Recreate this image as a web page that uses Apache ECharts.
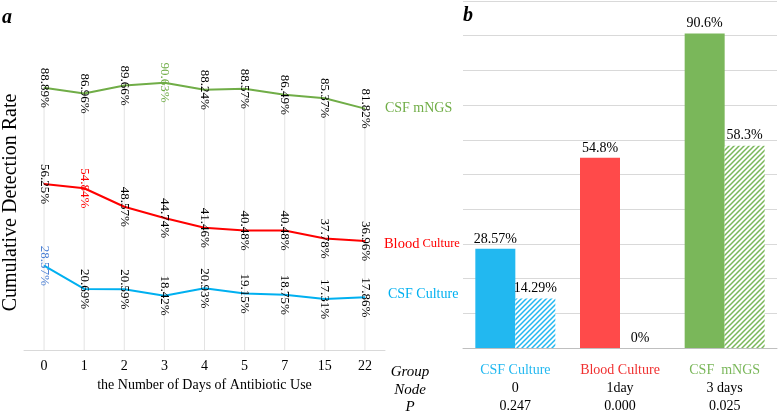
<!DOCTYPE html>
<html>
<head>
<meta charset="utf-8">
<script src="https://cdn.jsdelivr.net/npm/echarts@6/dist/echarts.min.js"></script>
<style>
  html, body { margin: 0; padding: 0; background: #fff; }
  #chart { width: 778px; height: 413px; }
</style>
</head>
<body>
<div id="chart"></div>
<script>
// panel a: cumulative detection rate by days of antibiotic use
const days = ['0', '1', '2', '3', '4', '5', '7', '15', '22'];
const mngsRate = [88.89, 86.96, 89.66, 90.63, 88.24, 88.57, 86.49, 85.37, 81.82];
const bloodRate = [56.25, 54.84, 48.57, 44.74, 41.46, 40.48, 40.48, 37.78, 36.96];
const csfCultureRate = [28.57, 20.69, 20.59, 18.42, 20.93, 19.15, 18.75, 17.31, 17.86];

// panel b: before / after node
const groups = ['CSF Culture', 'Blood Culture', 'CSF  mNGS'];
const nodes = ['0', '1day', '3 days'];
const pValues = ['0.247', '0.000', '0.025'];
const beforeRate = [28.57, 54.8, 90.6];
const afterRate = [14.29, 0, 58.3];

const FONT = '"Liberation Serif", "DejaVu Serif", serif';
const GREEN = '#70ad47', RED = '#ff0000', BLUE = '#00b0f0';
const barColors = ['#22b8f0', '#ff4a4a', '#7ab75a'];

// diagonal hatch for the "after" bars
function hatch(color) {
    const c = document.createElement('canvas');
    const s = 5;
    c.width = s; c.height = s;
    const ctx = c.getContext('2d');
    ctx.fillStyle = '#fff';
    ctx.fillRect(0, 0, s, s);
    ctx.strokeStyle = color;
    ctx.lineWidth = 1.5;
    ctx.beginPath();
    ctx.moveTo(-1, s + 1); ctx.lineTo(s + 1, -1);
    ctx.moveTo(-1, 1); ctx.lineTo(1, -1);
    ctx.moveTo(s - 1, s + 1); ctx.lineTo(s + 1, s - 1);
    ctx.stroke();
    return { image: c, repeat: 'repeat' };
}

// one point's label takes the series colour, the rest are black
function withLabelColor(values, idx, color) {
    return values.map((v, i) => i === idx ? { value: v, label: { color: color } } : v);
}

const lineLabel = {
    show: true,
    position: 'inside',
    rotate: -90,
    fontFamily: FONT,
    fontSize: 13,
    color: '#000',
    formatter: p => p.value + '%'
};

const chart = echarts.init(document.getElementById('chart'));

const option = {
    animation: false,
    textStyle: { fontFamily: FONT },
    grid: [
        { left: 20, top: 55, width: 365, height: 295 },
        { left: 463, top: 1, right: 1, height: 349 }
    ],
    xAxis: [
        {
            gridIndex: 0,
            type: 'category',
            data: days,
            axisLine: { lineStyle: { color: '#d9d9d9' } },
            axisTick: { show: false },
            axisLabel: { color: '#000', fontSize: 14, fontFamily: FONT, margin: 9 },
            splitLine: { show: false },
            name: 'the Number of Days of Antibiotic Use',
            nameLocation: 'middle',
            nameGap: 26,
            nameTextStyle: { color: '#000', fontSize: 14, fontFamily: FONT }
        },
        {
            gridIndex: 1,
            type: 'category',
            data: groups,
            axisLine: { lineStyle: { color: '#bfbfbf' } },
            axisTick: { show: false },
            axisLabel: {
                margin: 13,
                interval: 0,
                formatter: (v, i) => '{g' + i + '|' + v + '}\n{n|' + nodes[i] + '}\n{n|' + pValues[i] + '}',
                rich: {
                    g0: { color: barColors[0], fontSize: 14, fontFamily: FONT, lineHeight: 18 },
                    g1: { color: '#f03030', fontSize: 14, fontFamily: FONT, lineHeight: 18 },
                    g2: { color: barColors[2], fontSize: 14, fontFamily: FONT, lineHeight: 18 },
                    n: { color: '#000', fontSize: 14, fontFamily: FONT, lineHeight: 18 }
                }
            }
        }
    ],
    yAxis: [
        {
            gridIndex: 0,
            type: 'value',
            min: 0, max: 100,
            axisLabel: { show: false },
            axisLine: { show: false },
            axisTick: { show: false },
            splitLine: { show: false },
            name: 'Cumulative Detection Rate',
            nameLocation: 'middle',
            nameGap: 3,
            nameTextStyle: { color: '#000', fontSize: 20, fontFamily: FONT }
        },
        {
            gridIndex: 1,
            type: 'value',
            min: 0, max: 100, interval: 10,
            axisLabel: { show: false },
            axisLine: { show: false },
            axisTick: { show: false },
            splitLine: { lineStyle: { color: '#d9d9d9' } }
        }
    ],
    series: [
        {
            // drop lines under each day
            type: 'bar',
            xAxisIndex: 0, yAxisIndex: 0,
            data: mngsRate,
            barWidth: 1,
            silent: true,
            z: 1,
            itemStyle: { color: '#e3e3e3' }
        },
        {
            name: 'CSF mNGS',
            type: 'line',
            xAxisIndex: 0, yAxisIndex: 0,
            data: withLabelColor(mngsRate, 3, GREEN),
            symbol: 'circle', symbolSize: 1,
            itemStyle: { color: GREEN },
            lineStyle: { color: GREEN, width: 2 },
            label: lineLabel,
            endLabel: {
                show: true, distance: 20,
                color: GREEN, fontSize: 14, fontFamily: FONT,
                formatter: 'CSF mNGS'
            }
        },
        {
            name: 'Blood Culture',
            type: 'line',
            xAxisIndex: 0, yAxisIndex: 0,
            data: withLabelColor(bloodRate, 1, RED),
            symbol: 'circle', symbolSize: 1,
            itemStyle: { color: RED },
            lineStyle: { color: RED, width: 2 },
            label: lineLabel,
            endLabel: {
                show: true, distance: 19, offset: [0, 3],
                formatter: '{a|Blood} {b|Culture}',
                rich: {
                    a: { color: RED, fontSize: 14.5, fontFamily: FONT },
                    b: { color: RED, fontSize: 12.5, fontFamily: FONT }
                }
            }
        },
        {
            name: 'CSF Culture',
            type: 'line',
            xAxisIndex: 0, yAxisIndex: 0,
            data: withLabelColor(csfCultureRate, 0, '#4a7fd4'),
            symbol: 'circle', symbolSize: 1,
            itemStyle: { color: BLUE },
            lineStyle: { color: BLUE, width: 2 },
            label: lineLabel,
            endLabel: {
                show: true, distance: 23, offset: [0, -3],
                color: BLUE, fontSize: 14, fontFamily: FONT,
                formatter: 'CSF Culture'
            }
        },
        {
            type: 'bar',
            xAxisIndex: 1, yAxisIndex: 1,
            data: beforeRate.map((v, i) => ({ value: v, itemStyle: { color: barColors[i] } })),
            barWidth: 40,
            barGap: 0,
            label: {
                show: true, position: 'top', distance: 3,
                color: '#000', fontSize: 14, fontFamily: FONT,
                formatter: p => p.value + '%'
            }
        },
        {
            type: 'bar',
            xAxisIndex: 1, yAxisIndex: 1,
            data: afterRate.map((v, i) => ({ value: v, itemStyle: { color: hatch(barColors[i]) } })),
            barWidth: 40,
            barGap: 0,
            label: {
                show: true, position: 'top', distance: 3,
                color: '#000', fontSize: 14, fontFamily: FONT,
                formatter: p => p.value + '%'
            }
        }
    ],
    graphic: [
        { type: 'text', left: 2, top: 8, style: { text: 'a', font: 'italic bold 20px ' + FONT, fill: '#000' } },
        { type: 'text', left: 463, top: 6, style: { text: 'b', font: 'italic bold 20px ' + FONT, fill: '#000' } },
        { type: 'text', x: 410, y: 372, style: { text: 'Group', font: 'italic 15px ' + FONT, fill: '#000', align: 'center', verticalAlign: 'middle' } },
        { type: 'text', x: 410, y: 390, style: { text: 'Node', font: 'italic 15px ' + FONT, fill: '#000', align: 'center', verticalAlign: 'middle' } },
        { type: 'text', x: 410, y: 407, style: { text: 'P', font: 'italic 15px ' + FONT, fill: '#000', align: 'center', verticalAlign: 'middle' } }
    ]
};

chart.setOption(option);
</script>
</body>
</html>
